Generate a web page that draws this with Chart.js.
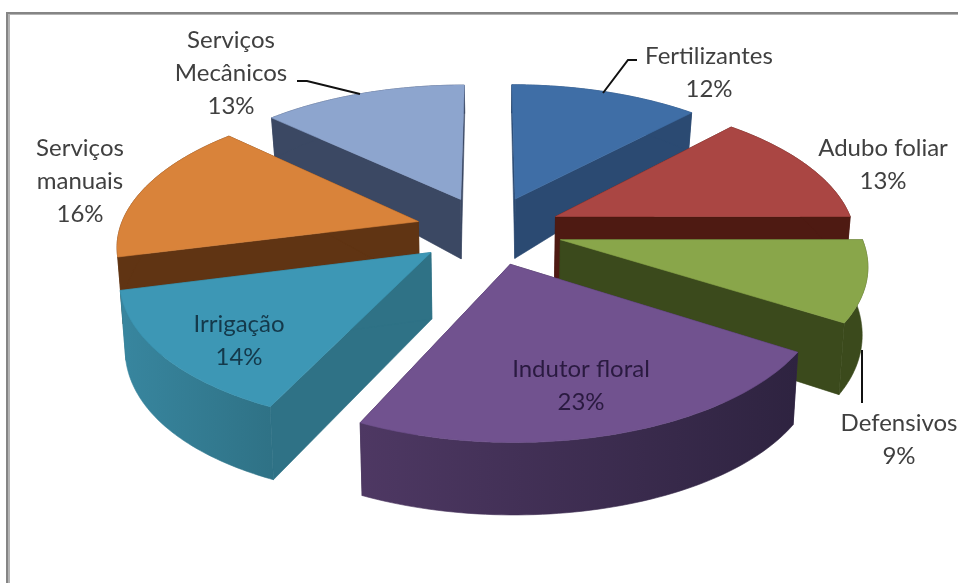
<!DOCTYPE html>
<html><head><meta charset="utf-8">
<style>html,body{margin:0;padding:0;background:#fff}canvas{display:block}</style>
<script src="https://cdn.jsdelivr.net/npm/chart.js@4/dist/chart.umd.min.js"></script>
</head><body><canvas id="c" width="958" height="583"></canvas>
<script>
const categories=["Fertilizantes","Adubo foliar","Defensivos","Indutor floral","Irrigação","Serviços manuais","Serviços Mecânicos"];
const shares=[12,13,9,23,14,16,13];
const topColors=["#3f6ea6","#aa4643","#89a64a","#71528f","#3d97b5","#d9833a","#8da5ce"];
const sideColors=["#2b4a72","#4e1a12","#3b4a1c","#3a2a4c","#2f7286","#603413","#3b4863"];
const rimLeft=["#2b4a72","#4e1a12","#3b4a1c","#4e3863","#38869f","#603413","#3b4863"];
const rimRight=["#2b4a72","#4e1a12","#3b4a1c","#2e2340","#2f7286","#603413","#3b4863"];
const labelLines=[["Fertilizantes"],["Adubo foliar"],["Defensivos"],["Indutor floral"],["Irrigação"],["Serviços","manuais"],["Serviços","Mecânicos"]];
const labelX=[709,883,899,581,239,80,231];
const labelY=[56,148,423,369,324,148,40];
const labelColors=["#404040","#404040","#404040","#2a1a40","#14394b","#404040","#404040"];
const leaders=[[[603,93],[628,60],[637,60]],[[297,81],[307,81],[360,94]],[[862,350],[862,403]]];
const P={cx:489,cy:230,rx:299,ry:140,p:0.15,explode:0.246,line:33};
const project=(X,Z)=>{const w=1+P.p*Z;return [P.cx+P.rx*X/w,P.cy-P.ry*Z/w];};
const depth=Z=>64-18*Z-9*Z*Z;
const shrink=0.015;
const lower=(X,Z)=>{const q=project(X,Z);return [q[0]-(q[0]-P.cx)*shrink,q[1]+depth(Z)];};
function poly(ctx,pts,fill){ctx.beginPath();pts.forEach((q,i)=>i?ctx.lineTo(q[0],q[1]):ctx.moveTo(q[0],q[1]));ctx.closePath();ctx.fillStyle=fill;ctx.fill();ctx.strokeStyle=fill;ctx.lineWidth=0.6;ctx.stroke();}
const pie3d={id:'pie3d',
beforeDatasetDraw(chart,args){
  const ctx=chart.ctx;
  const arcs=args.meta.data.map((el,i)=>{
    const {startAngle:s,endAngle:e}=el.getProps(['startAngle','endAngle'],true);
    const m=(s+e)/2;return {i,s,e,ox:P.explode*Math.cos(m),oz:-P.explode*Math.sin(m)};
  }).sort((a,b)=>b.oz-a.oz);
  ctx.save();ctx.filter='blur(0.6px)';
  for(const a of arcs){
    const rimT=[],rimB=[];
    const pt=t=>[a.ox+Math.cos(t),a.oz-Math.sin(t)];
    for(let k=0;k<=64;k++){const t=a.s+(a.e-a.s)*k/64;const [X,Z]=pt(t);rimT.push(project(X,Z));rimB.push(lower(X,Z));}
    const apT=project(a.ox,a.oz),apB=lower(a.ox,a.oz);
    poly(ctx,[apT,rimT[0],rimB[0],apB],sideColors[a.i]);
    poly(ctx,[apT,rimT[64],rimB[64],apB],sideColors[a.i]);
    const xs=rimT.map(q=>q[0]);
    const g=ctx.createLinearGradient(Math.min(...xs),0,Math.max(...xs),0);
    g.addColorStop(0,rimLeft[a.i]);g.addColorStop(1,rimRight[a.i]);
    poly(ctx,rimT.concat(rimB.slice().reverse()),g);
    poly(ctx,[apT].concat(rimT),topColors[a.i]);
  }
  ctx.restore();
  return false;
},
afterDraw(chart){
  const ctx=chart.ctx;ctx.save();
  ctx.fillStyle='#b4b4b4';ctx.fillRect(8,12,2,571);ctx.fillRect(6,14,952,1);
  ctx.fillStyle='#858585';ctx.fillRect(6,12,2,571);ctx.fillRect(6,12,952,2);
  ctx.filter='blur(0.4px)';
  ctx.strokeStyle='#111';ctx.lineWidth=2;
  leaders.forEach(l=>{ctx.beginPath();l.forEach((q,i)=>i?ctx.lineTo(q[0],q[1]):ctx.moveTo(q[0],q[1]));ctx.stroke();});
  ctx.font='24px Lato';ctx.textAlign='center';ctx.textBaseline='middle';
  categories.forEach((c,i)=>{
    ctx.fillStyle=labelColors[i];
    const lines=labelLines[i].concat([shares[i]+'%']);
    lines.forEach((t,j)=>ctx.fillText(t,labelX[i],labelY[i]+j*P.line));
  });
  ctx.restore();
}};
new Chart(document.getElementById('c'),{type:'pie',plugins:[pie3d],
 data:{labels:categories,datasets:[{data:shares,backgroundColor:topColors,borderWidth:0}]},
 options:{responsive:false,animation:false,plugins:{legend:{display:false},tooltip:{enabled:false}}}});
</script></body></html>
